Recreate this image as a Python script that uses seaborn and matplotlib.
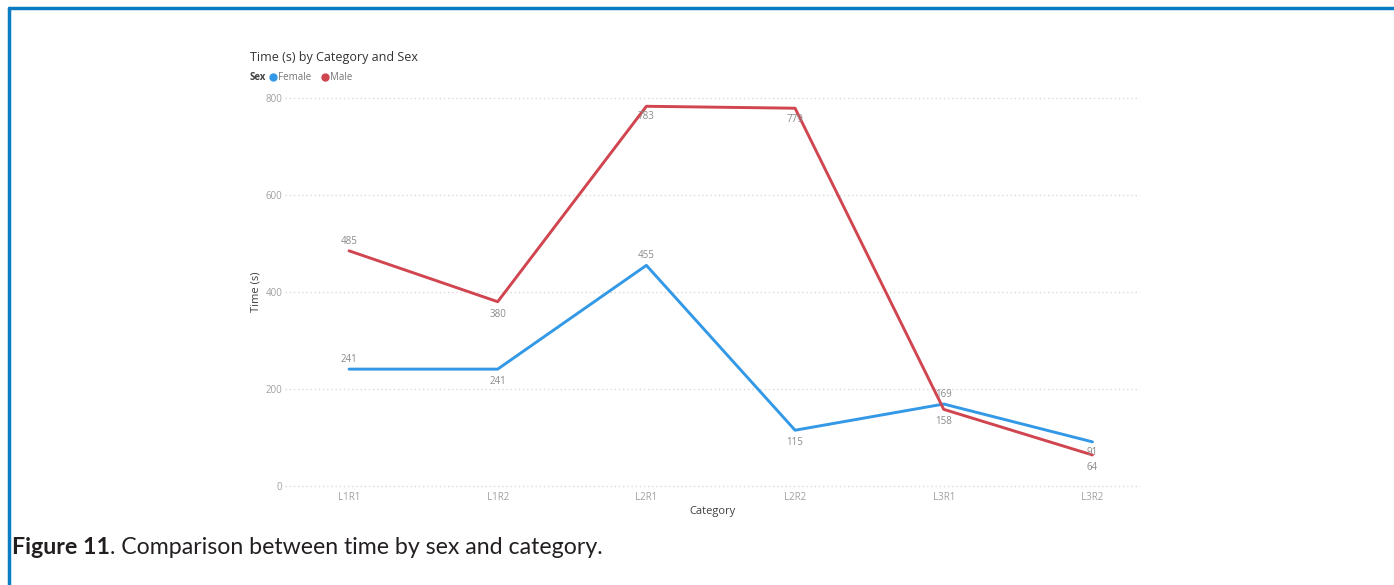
import matplotlib
matplotlib.use("Agg")
import matplotlib.pyplot as plt
from matplotlib.lines import Line2D
import seaborn as sns
import pandas as pd

categories = ["L1R1", "L1R2", "L2R1", "L2R2", "L3R1", "L3R2"]
female = [241, 241, 455, 115, 169, 91]
male = [485, 380, 783, 779, 158, 64]
y_ticks = [0, 200, 400, 600, 800]

# vertical offset (points) for each data label: positive = above the point
female_label_dy = [7, -9, 7, -9, 7, -8]
male_label_dy = [7, -9, -7, -8, -9, -9]

df = pd.DataFrame({
    "Category": categories * 2,
    "Time (s)": female + male,
    "Sex": ["Female"] * len(categories) + ["Male"] * len(categories),
})

sns.set_theme(style="white")
plt.rcParams["font.family"] = ["Open Sans", "DejaVu Sans"]

BLUE = "#3399E6"
RED = "#D0454F"
GREY = "#A0A0A0"

fig = plt.figure(figsize=(13.94, 5.85), dpi=100)
ax = fig.add_axes([0.2045, 0.1607, 0.6133, 0.6820])

sns.lineplot(data=df, x="Category", y="Time (s)", hue="Sex",
             palette={"Female": BLUE, "Male": RED}, linewidth=2.1,
             sort=False, legend=False, ax=ax)

ax.set_ylim(-10.3, 812.4)
ax.set_xlim(-0.43, 5.32)
ax.set_yticks(y_ticks)
ax.set_yticklabels([str(v) for v in y_ticks])
for v in y_ticks:
    ax.axhline(v, color="#D8D8D8", linewidth=1.0, linestyle=(0, (1, 2)), zorder=0)
for s in ax.spines.values():
    s.set_visible(False)
ax.tick_params(axis="both", length=0, labelsize=7, colors=GREY)
ax.tick_params(axis="x", pad=1)
ax.tick_params(axis="y", pad=2)
ax.set_xlabel("Category", fontsize=8, color="#404040", labelpad=2)
ax.set_ylabel("Time (s)", fontsize=8, color="#404040", labelpad=3)

for i, (f, m) in enumerate(zip(female, male)):
    ax.annotate(str(f), (i, f), xytext=(0, female_label_dy[i]), textcoords="offset points",
                ha="center", va="center", fontsize=7, color="#8A8A8A")
    ax.annotate(str(m), (i, m), xytext=(0, male_label_dy[i]), textcoords="offset points",
                ha="center", va="center", fontsize=7, color="#8A8A8A")

# title and legend row
fig.text(250 / 1394, 1 - 57 / 585, "Time (s) by Category and Sex",
         fontsize=9, color="#333333", va="center", ha="left")
fig.text(250 / 1394, 1 - 77 / 585, "Sex", fontsize=7, fontweight="bold",
         color="#444444", va="center", ha="left")
legend_items = [("Female", BLUE, 273), ("Male", RED, 325)]
for name, col, x in legend_items:
    fig.add_artist(Line2D([x / 1394], [1 - 77 / 585], marker="o", markersize=5,
                          color=col, linestyle="none", transform=fig.transFigure))
    fig.text((x + 5) / 1394, 1 - 77 / 585, name, fontsize=7, color="#777777",
             va="center", ha="left")

# frame lines
fig.add_artist(Line2D([9 / 1394, 1393 / 1394], [1 - 8 / 585, 1 - 8 / 585],
                      color="#0A7CC1", linewidth=2.5, transform=fig.transFigure))
fig.add_artist(Line2D([9 / 1394, 9 / 1394], [1 - 8 / 585, 0],
                      color="#0A7CC1", linewidth=2.5, transform=fig.transFigure))

# caption: bold figure number followed directly by the regular text
cap_font = ["Lato", "DejaVu Sans"]
bold = fig.text(12 / 1394, 1 - 548 / 585, "Figure 11", fontsize=16.7, fontweight="bold",
                color="#231F20", va="center", ha="left", family=cap_font)
renderer = fig.canvas.get_renderer()
bb = bold.get_window_extent(renderer=renderer)
fig.text(bb.x1 / 1394, 1 - 548 / 585, ". Comparison between time by sex and category.",
         fontsize=16.7, color="#231F20", va="center", ha="left", family=cap_font)

fig.savefig("out.png", dpi=100)
